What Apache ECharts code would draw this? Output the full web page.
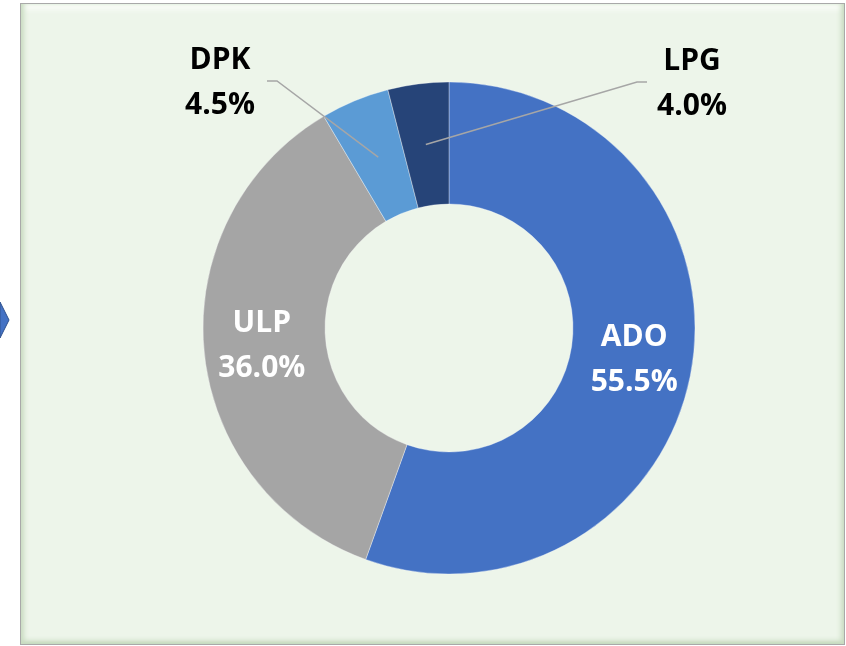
<!DOCTYPE html>
<html>
<head>
<meta charset="utf-8">
<title>Fuel share donut</title>
<script src="https://cdn.jsdelivr.net/npm/echarts@6/dist/echarts.min.js"></script>
<style>
  html, body { margin: 0; padding: 0; background: #ffffff; }
  #frame {
    position: absolute; left: 20px; top: 3px; width: 825px; height: 642px;
    box-sizing: border-box; background: #edf5ea; border: 1px solid #a9a9a9;
    box-shadow: inset 5px 0 5px -2px #c9dcc1, inset -5px 0 5px -2px #c9dcc1,
                inset 0 -5px 5px -2px #c3d7ba, inset 0 7px 6px -2px #fbfdfa;
  }
  #chart { position: absolute; left: 0; top: 0; width: 846px; height: 646px; }
</style>
</head>
<body>
<div id="frame"></div>
<div id="chart"></div>
<script>
// data
const categories = ['ADO', 'ULP', 'DPK', 'LPG']
const shares = [55.5, 36.0, 4.5, 4.0]
const sliceColors = ['#4472c4', '#a5a5a5', '#5b9bd5', '#264478']
// small slices get an outside label with a leader line
const outsideLabels = ['DPK', 'LPG']

const chart = echarts.init(document.getElementById('chart'))

const labelFont = {
  fontFamily: '"Open Sans", Lato, sans-serif',
  fontWeight: 'bold',
  fontSize: 30,
  lineHeight: 45,
}

const fmt = (p) => p.name + '\n' + p.value.toFixed(1) + '%'

const ringData = categories.map((name, i) => ({
  name,
  value: shares[i],
  itemStyle: { color: sliceColors[i] },
  label: { show: !outsideLabels.includes(name) },
}))

// invisible inner pie, only used to anchor the leader lines at mid-ring
const anchorData = categories.map((name, i) => ({
  name,
  value: shares[i],
  label: { show: outsideLabels.includes(name) },
  labelLine: { show: outsideLabels.includes(name) },
}))

chart.setOption({
  animation: false,
  graphic: [
    {
      type: 'polygon',
      shape: { points: [[0, 302], [9, 320], [0, 338]] },
      style: { fill: '#4472c4', stroke: '#2f528f', lineWidth: 1 },
    },
  ],
  series: [
    {
      type: 'pie',
      z: 2,
      center: [449, 328],
      radius: [124, 246],
      startAngle: 90,
      clockwise: true,
      avoidLabelOverlap: false,
      silent: true,
      itemStyle: { borderColor: 'rgba(255,255,255,0.35)', borderWidth: 1 },
      label: {
        position: 'inside',
        color: '#ffffff',
        formatter: fmt,
        ...labelFont,
      },
      labelLine: { show: false },
      data: ringData,
    },
    {
      type: 'pie',
      z: 5,
      center: [449, 328],
      radius: [0, 185],
      startAngle: 90,
      clockwise: true,
      avoidLabelOverlap: false,
      silent: true,
      itemStyle: { color: 'rgba(0,0,0,0)' },
      label: {
        position: 'outside',
        color: '#000000',
        formatter: fmt,
        ...labelFont,
      },
      labelLine: {
        length: 20,
        length2: 10,
        lineStyle: { color: '#a6a6a6', width: 1.5 },
      },
      labelLayout: (params) => {
        const start = params.labelLinePoints ? params.labelLinePoints[0] : [0, 0]
        if (params.dataIndex === 2) {
          return {
            x: 220, y: 83, align: 'center', verticalAlign: 'middle',
            labelLinePoints: [start, [277, 81], [267, 81]],
          }
        }
        if (params.dataIndex === 3) {
          return {
            x: 692, y: 84, align: 'center', verticalAlign: 'middle',
            labelLinePoints: [start, [637, 82], [647, 82]],
          }
        }
        return {}
      },
      data: anchorData,
    },
  ],
})
</script>
</body>
</html>
